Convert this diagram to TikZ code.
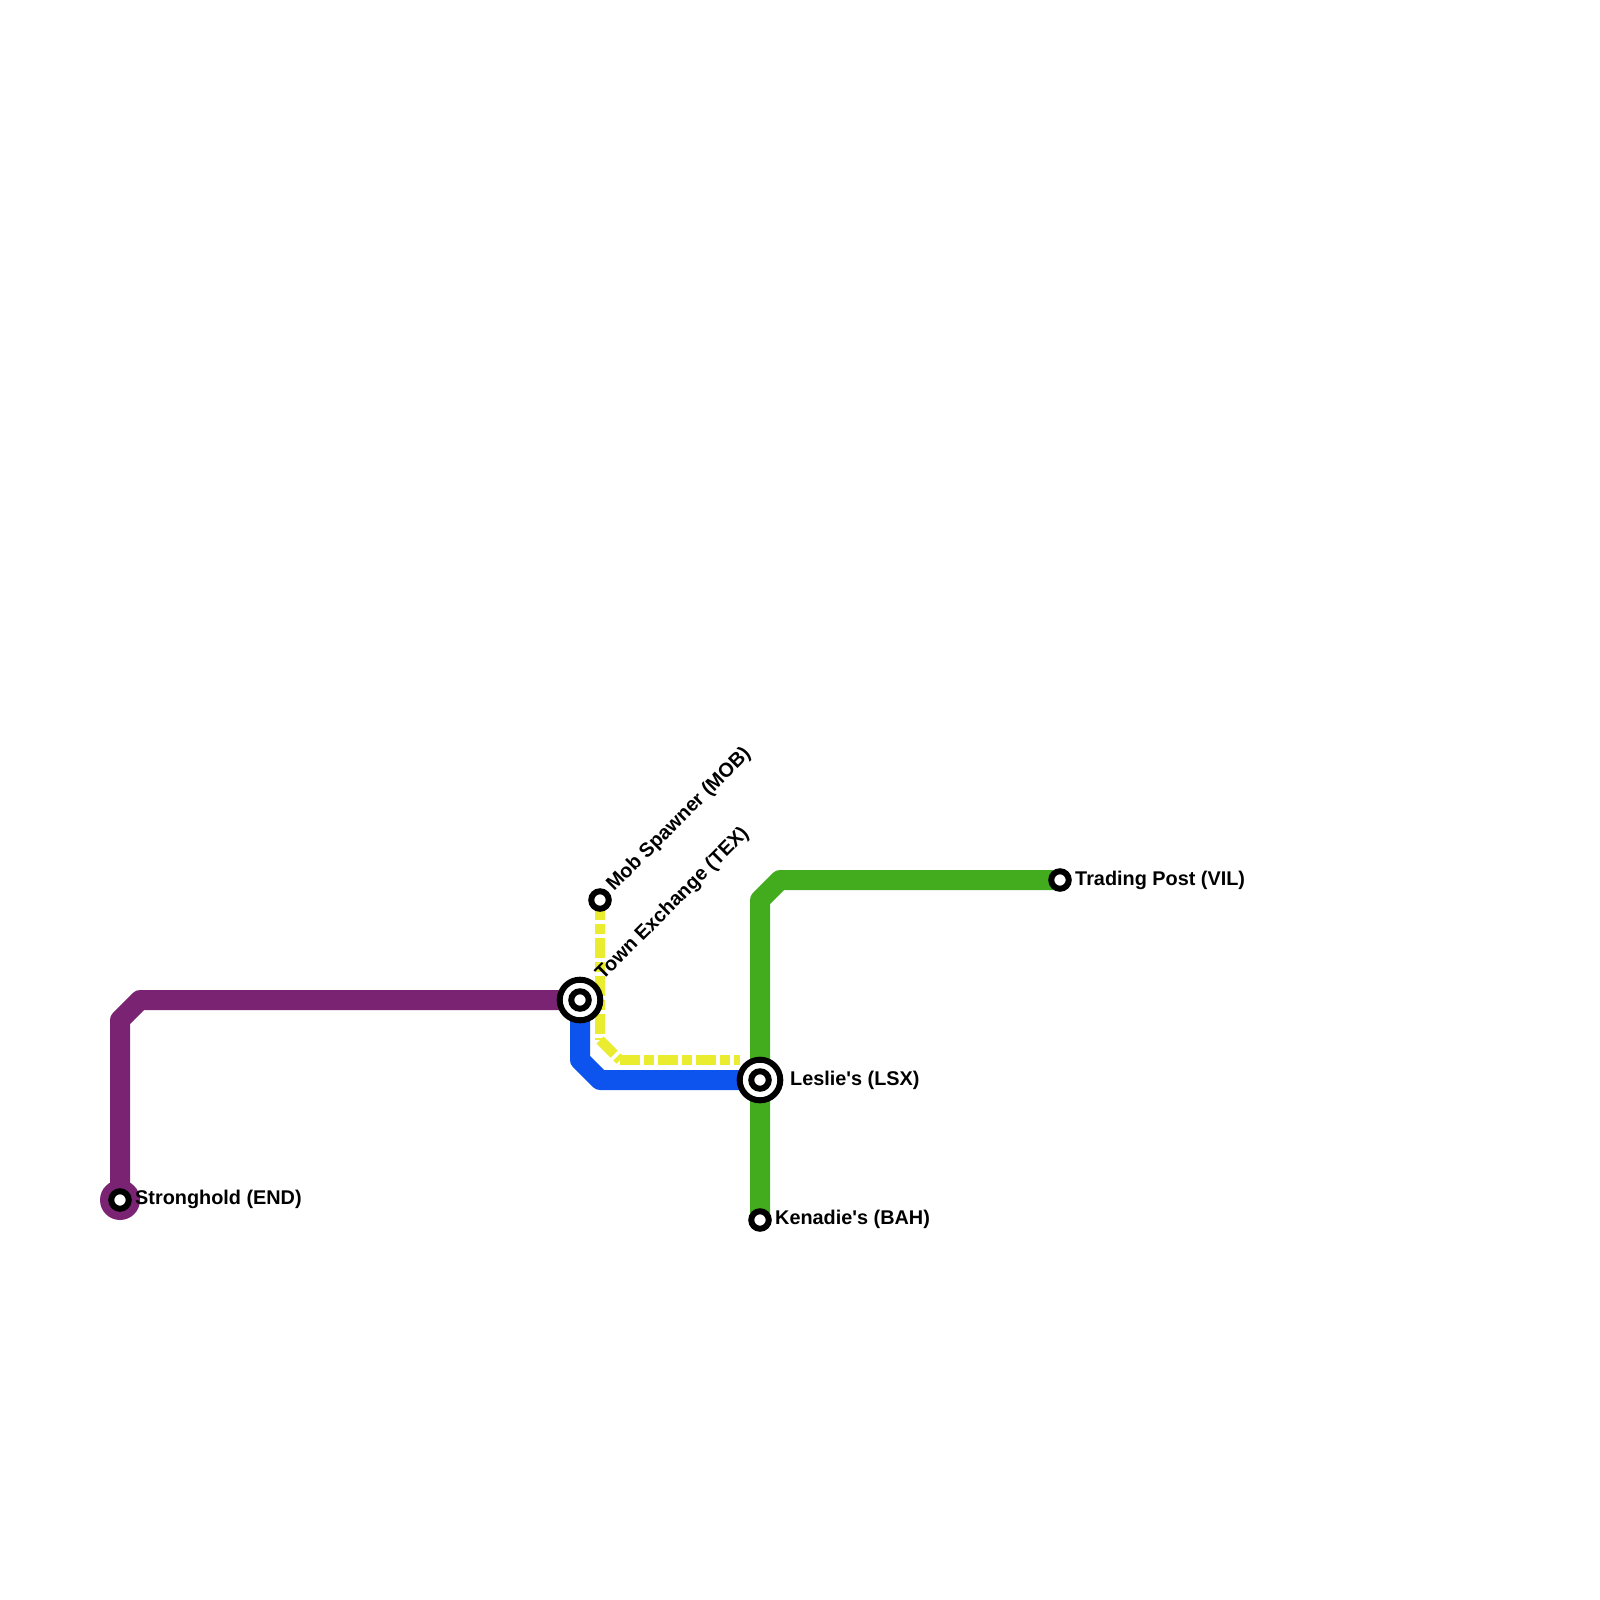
\documentclass[tikz,border=0pt]{standalone}
\usepackage{fontspec}
\setmainfont{Liberation Sans}
\usepackage{xcolor}
\usetikzlibrary{backgrounds}
\definecolor{endline}{HTML}{7B2373}
\definecolor{hubline}{HTML}{0D53EE}
\definecolor{farmline}{HTML}{43AB1E}
\definecolor{mobline}{HTML}{E9EC2F}

\begin{document}
\begin{tikzpicture}[x=1pt,y=-1pt]
\tikzstyle{stopdot}=[circle, draw=black, fill=white, line width=6pt, minimum size=17.5pt, inner sep=0pt]
\tikzstyle{hubdot}=[circle, draw=black, fill=white, line width=6pt, minimum size=40.6pt, inner sep=0pt]
\tikzstyle{terminus}=[circle, fill=endline, minimum size=40pt, inner sep=0pt]
\tikzstyle{stationtext}=[inner sep=0pt, anchor=base west, font=\bfseries\fontsize{19.85}{22}\selectfont]
\tikzstyle{metroline}=[line width=20pt, line join=round]
\tikzstyle{dashline}=[line width=10pt, mobline, dash pattern=on 20pt off 4pt on 10pt off 4pt]
\useasboundingbox (0,0) rectangle (1600,1600);

\node[terminus] (stronghold disc) at (120,1200)  {};
\node[stopdot] (stronghold) at (120,1200)  {};
\node[hubdot] (town) at (580,1000)  {};
\node[stopdot] (town stop) at (580,1000)  {};
\node[hubdot] (leslie) at (760,1080)  {};
\node[stopdot] (leslie stop) at (760,1080)  {};
\node[stopdot] (mob) at (600,900)  {};
\node[stopdot] (kenadie) at (760,1220)  {};
\node[stopdot] (trading) at (1060,880)  {};

\node[stationtext] (stronghold label) at (135,1204.5)  {Stronghold (END)};
\node[stationtext] (leslie label) at (790,1085)  {Leslie\textquotesingle s (LSX)};
\node[stationtext] (kenadie label) at (775,1224.5)  {Kenadie\textquotesingle s (BAH)};
\node[stationtext] (trading label) at (1075,885)  {Trading Post (VIL)};
\node[stationtext, rotate=45] (mob label) at (614,892)  {Mob Spawner (MOB)};
\node[stationtext, rotate=45] (town label) at (603,981)  {Town Exchange (TEX)};

\coordinate (purple a) at (120,1020);
\coordinate (purple b) at (140,1000);
\coordinate (blue a) at (580,1060);
\coordinate (blue b) at (600,1080);
\coordinate (green a) at (760,900);
\coordinate (green b) at (780,880);
\coordinate (yellow a) at (600,1040);
\coordinate (yellow b) at (620,1060);
\coordinate (yellow c) at (740,1060);

\begin{pgfonlayer}{background}
\draw[metroline, endline] (stronghold.center) -- (purple a) -- (purple b) -- (town.center);
\draw[metroline, hubline] (town.center) -- (blue a) -- (blue b) -- (leslie.center);
\draw[metroline, farmline] (trading.center) -- (green b) -- (green a) -- (kenadie.center);
\draw[dashline] (mob.center) -- (yellow a);
\draw[dashline] (yellow a) -- (yellow b);
\draw[dashline] (yellow b) -- (yellow c);
\end{pgfonlayer}
\end{tikzpicture}
\end{document}
